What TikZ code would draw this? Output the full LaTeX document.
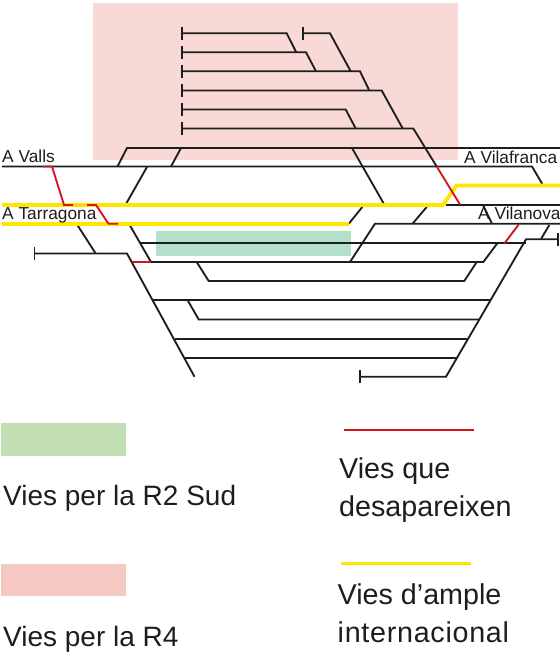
\documentclass[tikz,border=0pt]{standalone}
\usepackage{fontspec}
\setmainfont{Liberation Sans}
\usepackage{xcolor}
\definecolor{railink}{HTML}{1D1D1B}
\definecolor{railred}{HTML}{D8121F}
\definecolor{railyellow}{HTML}{FFE500}
\definecolor{zonepink}{HTML}{F8D9D6}
\definecolor{zonegreen}{HTML}{B4DFC8}
\definecolor{keygreen}{HTML}{C2DFB4}
\definecolor{keypink}{HTML}{F6C8C4}

\begin{document}
\begin{tikzpicture}[
  x=1pt, y=-1pt,
  every node/.style={inner sep=0pt, anchor=base west, text=railink},
  track/.style={draw=railink, line width=1.85pt},
  gone/.style={draw=railred, line width=1.85pt},
  wide/.style={draw=railyellow, line width=3.8pt},
  place/.style={font=\fontsize{17.3}{19}\selectfont},
  keytext/.style={font=\fontsize{28}{30}\selectfont},
  keywide/.style={font=\fontsize{28.7}{30}\selectfont}
]
\useasboundingbox (0,0) rectangle (560,662);

% ---- Zones behind the tracks ----
\fill[zonepink] (93,2.5) rectangle (458,160);
\fill[zonegreen] (156,231) rectangle (351,256);

% ---- Sidings, top fan ----
\draw[track] (182,26.8) -- (182,39.8);
\draw[track] (182,45.8) -- (182,58.8);
\draw[track] (182,64.8) -- (182,77.8);
\draw[track] (182,84) -- (182,97);
\draw[track] (182,103) -- (182,116);
\draw[track] (182,122) -- (182,135);
\draw[track] (303,26.8) -- (303,39.8);
\draw[track] (182,33.3) -- (286.7,33.3) -- (296.3,52.3);
\draw[track] (182,52.3) -- (306,52.3) -- (316,71.3);
\draw[track] (182,71.3) -- (360,71.3) -- (369.3,90.5);
\draw[track] (182,90.5) -- (381.7,90.5) -- (402.7,128.5);
\draw[track] (182,109.5) -- (345.7,109.5) -- (355.7,128.5);
\draw[track] (182,128.5) -- (413.3,128.5) -- (436.7,166.5);
\draw[track] (303,33.3) -- (330,33.3) -- (350.7,71.3);

% ---- Main lines, upper ----
\draw[track] (117.5,166.5) -- (127,148) -- (560,148);
\draw[track] (171,166.5) -- (181,148);
\draw[track] (2,166.5) -- (532,166.5) -- (542.3,184);
\draw[track] (147,167) -- (126.5,203);
\draw[track] (352,148) -- (384,204);
\draw[track] (445.7,204.7) -- (560,204.7);
\draw[track] (483,205) -- (492,223.7);
\draw[track] (362.3,207) -- (349,223.5);
\draw[track] (426.7,207) -- (412.7,223.5);

% ---- Station tracks ----
\draw[track] (350,262) -- (375,223.7) -- (560,223.7);
\draw[track] (141,243.3) -- (526,243.3);
\draw[track] (130,225.5) -- (151,262) -- (483.3,262) -- (497.3,243.3);
\draw[track] (196.7,262) -- (208.7,281) -- (464.3,281) -- (476.7,262);
\draw[track] (153,300.3) -- (490,300.3);
\draw[track] (187.7,300.3) -- (198.7,319.5) -- (479.3,319.5);
\draw[track] (175,338.7) -- (467.3,338.7);
\draw[track] (185,357.7) -- (456.7,357.7);

% ---- Long sides of the fan ----
\draw[track] (34.5,247) -- (34.5,260);
\draw[track] (34.5,253.5) -- (127,253.5) -- (194.5,376.7);
\draw[track] (77.7,225.5) -- (95.7,253.5);
\draw[track] (360.3,370.2) -- (360.3,383.2);
\draw[track] (360.3,376.7) -- (446,376.7) -- (526,239.3) -- (558,239.3);
\draw[track] (558,232.8) -- (558,245.8);
\draw[track] (541,239) -- (549.3,225);

% ---- International gauge ----
\draw[wide] (2,205) -- (443,205) -- (456.7,185.5) -- (560,185.5);
\draw[wide] (2,223.7) -- (349,223.7);

% ---- Tracks that go away ----
\draw[gone] (43,166.5) -- (52,166.5) -- (64,205) -- (73,205);
\draw[gone] (87,205) -- (96,205) -- (108.5,223.7) -- (118,223.7);
\draw[gone] (436.7,166.5) -- (460,204.5);
\draw[gone] (132,262) -- (151,262);
\draw[gone] (504.3,243.5) -- (518.7,224.5);

% ---- Place names ----
\node[place] (valls) at (2,162) {A Valls};
\node[place] (vilafranca) at (464,163) {A Vilafranca};
\node[place] (tarragona) at (2,219.3) {A Tarragona};
\node[place] (vilanova) at (478,219.5) {A Vilanova};

% ---- Key, left column ----
\fill[keygreen] (1,422.5) rectangle (126,455.5);
\node[keytext] (keysud) at (3,505.7) {Vies per la R2 Sud};
\fill[keypink] (1,563.5) rectangle (126,596);
\node[keytext] (keyfour) at (3,646.7) {Vies per la R4};

% ---- Key, right column ----
\draw[gone] (343.5,430) -- (473.5,430);
\node[keywide] (keyque) at (339,478) {Vies que};
\node[keywide] (keydes) at (339,516.7) {desapareixen};
\draw[wide] (341,563.5) -- (471,563.5);
\node[keywide] (keyample) at (337.5,604) {Vies d’ample};
\node[keywide] (keyint) at (337.5,642.7) {\addfontfeature{LetterSpace=2.5}internacional};

\end{tikzpicture}
\end{document}
